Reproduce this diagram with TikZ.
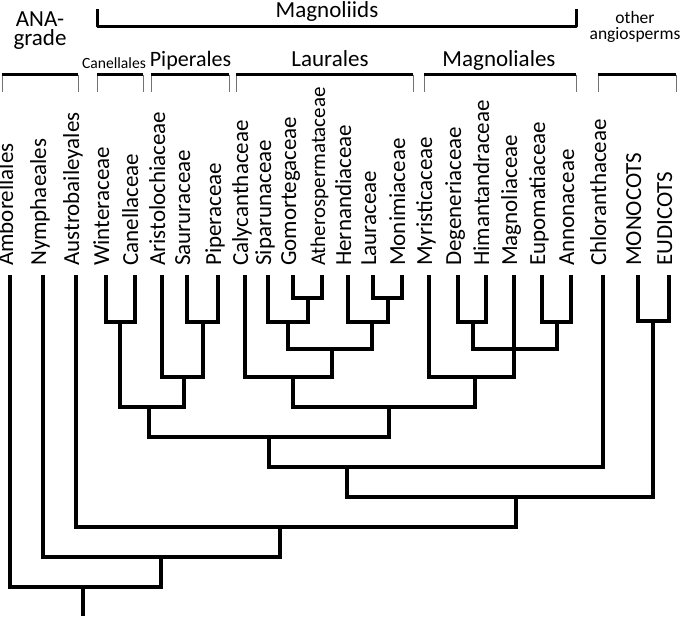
\documentclass[tikz,border=0pt]{standalone}
\usepackage{fontspec}
\setmainfont{Carlito}
\begin{document}
\begin{tikzpicture}[x=1pt,y=-1pt,
  branch/.style={line width=3.8pt},
  bar/.style={line width=3pt},
  tick/.style={line width=0.8pt,black!55},
  leaflab/.style={rotate=90,anchor=west,inner sep=0pt,text height=0.63em,text depth=0pt,font=\fontsize{23}{25}\selectfont},
  smalllab/.style={leaflab,font=\fontsize{21}{23}\selectfont},
  grouplab/.style={anchor=base,inner sep=0pt,font=\fontsize{23}{25}\selectfont}]
\useasboundingbox (0,0) rectangle (685,616);
% leaves
\foreach \n/\x/\t in {amb/10/Amborellales,nym/43/Nymphaeales,aus/76/Austrobaileyales,win/106/Winteraceae,can/135/Canellaceae,ari/162/Aristolochiaceae,sau/187/Saururaceae,pip/218/Piperaceae,cal/245/Calycanthaceae,sip/268/Siparunaceae,gom/293/Gomortegaceae,her/348/Hernandiaceae,lau/373/Lauraceae,mon/402/Monimiaceae,myr/429/Myristicaceae,deg/458/Degeneriaceae,him/486/Himantandraceae,mag/514/Magnoliaceae,eup/542/Eupomatiaceae,ann/571/Annonaceae,chl/603/Chloranthaceae,mono/638/MONOCOTS,eud/669/EUDICOTS}{
  \coordinate (\n) at (\x,275);
  \node[leaflab] (l\n) at (\x,266) {\t};
}
\coordinate (ath) at (322,275);
\node[smalllab] (lath) at (322,266) {Atherospermataceae};
% internal nodes
\coordinate (n1) at (120,322);
\coordinate (n2) at (203,322);
\coordinate (n3) at (184,377);
\coordinate (n4) at (149,407);
\coordinate (n5) at (308,298);
\coordinate (n6) at (288,322);
\coordinate (n7) at (388,298);
\coordinate (n8) at (372,322);
\coordinate (n9) at (332,349);
\coordinate (n10) at (293,377);
\coordinate (n11) at (473,322);
\coordinate (n12) at (557,322);
\coordinate (n13) at (514,349);
\coordinate (n14) at (475,377);
\coordinate (n15) at (389,407);
\coordinate (n16) at (269,437);
\coordinate (n17) at (347,467);
\coordinate (n18) at (653,321);
\coordinate (n19) at (516,497);
\coordinate (n20) at (280,527);
\coordinate (n21) at (161,557);
\coordinate (n22) at (83,587);
\coordinate (root) at (83,616);
\begin{scope}[branch]
\draw (win) |- (n1) -| (can);
\draw (sau) |- (n2) -| (pip);
\draw (ari) |- (n3) -| (n2);
\draw (n1) |- (n4) -| (n3);
\draw (gom) |- (n5) -| (ath);
\draw (sip) |- (n6) -| (n5);
\draw (lau) |- (n7) -| (mon);
\draw (her) |- (n8) -| (n7);
\draw (n6) |- (n9) -| (n8);
\draw (cal) |- (n10) -| (n9);
\draw (deg) |- (n11) -| (him);
\draw (eup) |- (n12) -| (ann);
\draw (n11) |- (n13) -| (n12);
\draw (mag) -- (n13);
\draw (myr) |- (n14) -| (n13);
\draw (n10) |- (n15) -| (n14);
\draw (n4) |- (n16) -| (n15);
\draw (n16) |- (n17) -| (chl);
\draw (mono) |- (n18) -| (eud);
\draw (n17) |- (n19) -| (n18);
\draw (aus) |- (n20) -| (n19);
\draw (nym) |- (n21) -| (n20);
\draw (amb) |- (n22) -| (n21);
\draw (n22) -- (root);
\end{scope}
% brackets
\foreach \nm/\l/\r in {ana/2/78,cane/97/143,pipe/151/229,laur/236/413,magn/424/576,oth/598/676}{
  \coordinate (\nm L) at (\l,74.5);
  \coordinate (\nm R) at (\r,74.5);
  \draw[tick] (\nm L) -- ++(0,17.5);
  \draw[tick] (\nm R) -- ++(0,17.5);
  \draw[bar] (\nm L) -- (\nm R);
}
\coordinate (mgL) at (97,26);
\coordinate (mgR) at (576,26);
\draw[bar,line join=round] ([yshift=17pt]mgL) -- (mgL) -- (mgR) -- ([yshift=17pt]mgR);
% group labels
\node[anchor=base,align=center,inner sep=0pt,font=\fontsize{23}{18.3}\selectfont] (tana) at (40,45) {ANA-\\grade};
\node[grouplab] (tmagnoliids) at (327,17) {Magnoliids};
\node[grouplab,font=\fontsize{15.6}{17}\selectfont] (tcane) at (114,68) {Canellales};
\node[grouplab,font=\fontsize{22}{24}\selectfont] (tpipe) at (190.5,66) {Piperales};
\node[grouplab] (tlaur) at (330,66) {Laurales};
\node[grouplab] (tmagn) at (499,66) {Magnoliales};
\node[anchor=base,align=center,inner sep=0pt,font=\fontsize{17.5}{16}\selectfont] (toth) at (635,39.5) {other\\angiosperms};
\end{tikzpicture}
\end{document}
